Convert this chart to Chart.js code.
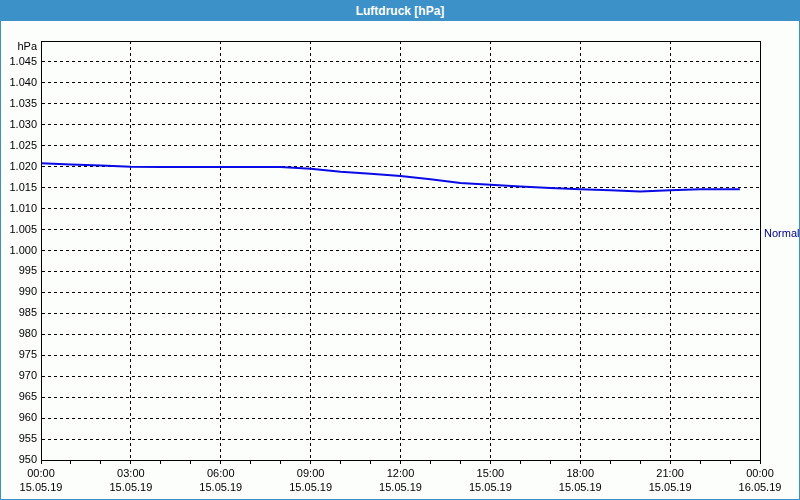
<!DOCTYPE html>
<html>
<head>
<meta charset="utf-8">
<script src="https://cdn.jsdelivr.net/npm/chart.js@4/dist/chart.umd.min.js"></script>
<style>
  html, body { margin: 0; padding: 0; background: #fff; }
  #frame { position: relative; width: 800px; height: 500px; box-sizing: border-box;
           border: 1px solid #3c91c8; background: #fcfefc; overflow: hidden; }
  #title { position: absolute; left: 0; top: 0; width: 100%; height: 20px; background: #3c91c8;
           color: #fff; font: bold 12px "Liberation Sans", Arial, sans-serif; text-align: center; line-height: 20px; z-index: 2; }
  #chart { position: absolute; left: -1px; top: -1px; }
</style>
</head>
<body>
<div id="frame">
  <div id="title">Luftdruck [hPa]</div>
  <canvas id="chart" width="800" height="500"></canvas>
</div>
<script>
// Luftdruck 15.05.19, Stunden seit 00:00
const hours = [0, 1, 2, 3, 4, 5, 6, 7, 8, 9, 10, 11, 12, 13, 14, 15, 16, 17, 18, 19, 20, 21, 22, 23, 23.33];
const pressure = [1020.8, 1020.5, 1020.3, 1020.0, 1019.9, 1019.9, 1019.9, 1019.9, 1019.9, 1019.5,
                  1018.8, 1018.3, 1017.8, 1017.0, 1016.1, 1015.7, 1015.3, 1014.9, 1014.6, 1014.4,
                  1014.1, 1014.4, 1014.6, 1014.6, 1014.6];
const timeLabels = ['00:00', '03:00', '06:00', '09:00', '12:00', '15:00', '18:00', '21:00', '00:00'];
const dateLabels = ['15.05.19', '15.05.19', '15.05.19', '15.05.19', '15.05.19', '15.05.19', '15.05.19', '15.05.19', '16.05.19'];
const normalLevel = 1004;

const FONT = '"Liberation Sans", Arial, sans-serif';

function fmtHpa(v) {
  if (v === 1050) return '';
  return v >= 1000 ? '1.' + String(v).slice(1) : String(v);
}

const framePlugin = {
  id: 'frame',
  afterDraw(chart) {
    const { ctx, chartArea: a } = chart;
    ctx.save();
    ctx.strokeStyle = '#000';
    ctx.lineWidth = 1;
    ctx.setLineDash([]);
    ctx.strokeRect(Math.round(a.left) + 0.5, Math.round(a.top) + 0.5,
                   Math.round(a.right - a.left), Math.round(a.bottom - a.top));
    ctx.font = '11px ' + FONT;
    ctx.textBaseline = 'middle';
    // unit label at the top of the y axis
    ctx.fillStyle = '#000';
    ctx.textAlign = 'right';
    ctx.fillText('hPa', a.left - 4, a.top + 6);
    // "Normal" label on the right side
    const y = chart.scales.y.getPixelForValue(normalLevel);
    ctx.fillStyle = '#000080';
    ctx.textAlign = 'left';
    ctx.fillText('Normal', a.right + 4, y);
    ctx.restore();
  }
};

new Chart(document.getElementById('chart'), {
  type: 'line',
  data: {
    datasets: [{
      data: hours.map((h, i) => ({ x: h, y: pressure[i] })),
      borderColor: '#0a0ae6',
      borderWidth: 2,
      pointRadius: 0,
      tension: 0,
      fill: false
    }]
  },
  options: {
    responsive: false,
    animation: false,
    layout: { padding: { top: 41, right: 40, left: 1, bottom: 0 } },
    plugins: { legend: { display: false }, tooltip: { enabled: false } },
    scales: {
      x: {
        type: 'linear',
        min: 0,
        max: 24,
        afterFit(scale) { scale.height = 40; },
        ticks: {
          stepSize: 1,
          autoSkip: false,
          maxRotation: 0,
          padding: 2,
          color: '#000',
          font: { family: FONT, size: 11, lineHeight: 1.36 },
          callback: v => v % 3 === 0 ? [timeLabels[v / 3], dateLabels[v / 3]] : ''
        },
        grid: {
          color: c => (c.tick && c.tick.value % 3 === 0) ? '#000' : 'rgba(0,0,0,0)',
          tickColor: '#000',
          tickLength: 4,
          lineWidth: 1
        },
        border: { color: '#000', dash: [3, 3] }
      },
      y: {
        min: 950,
        max: 1050,
        afterFit(scale) { scale.width = 40; },
        ticks: {
          stepSize: 5,
          padding: 4,
          color: '#000',
          font: { family: FONT, size: 11 },
          callback: v => fmtHpa(v)
        },
        grid: { color: '#000', drawTicks: false, lineWidth: 1 },
        border: { color: '#000', dash: [3, 3] }
      }
    }
  },
  plugins: [framePlugin]
});
</script>
</body>
</html>
